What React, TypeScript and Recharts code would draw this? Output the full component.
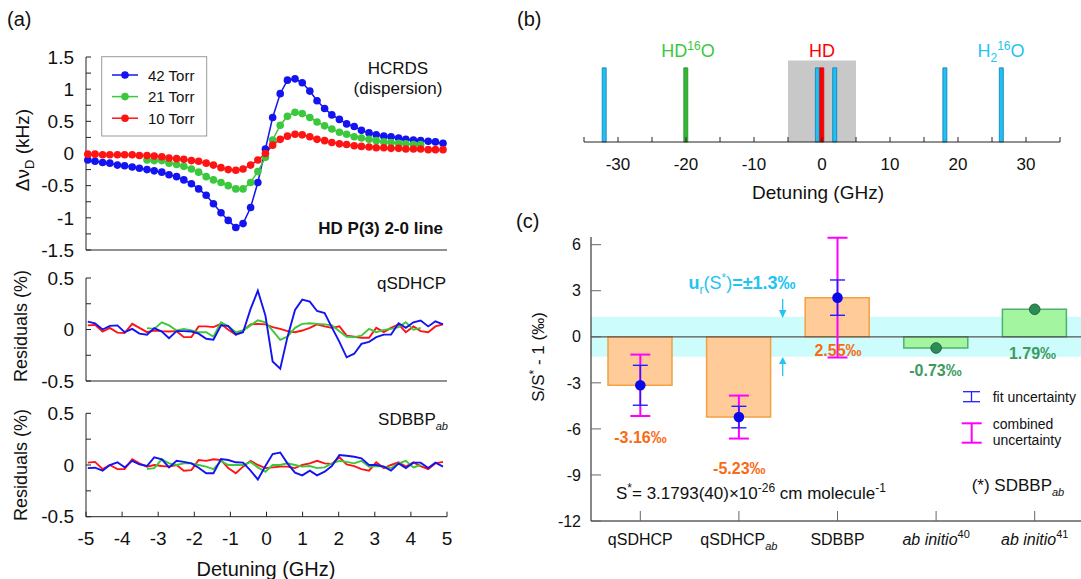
import React from 'react';
import {
  LineChart, Line, XAxis, YAxis, ComposedChart, Bar, Cell,
  ReferenceArea, ReferenceLine, ErrorBar,
} from 'recharts';

const FONT = '"Liberation Sans", Arial, Helvetica, sans-serif';
const AX = '#222';
const BLUE = '#1414F0';
const GREEN = '#3CC83C';
const RED = '#FF1414';
const MAGENTA = '#FF00FF';
const CYAN = '#22C4F0';
const ORANGE_TXT = '#F96A14';
const GREEN_TXT = '#3D9B5F';

// ---------- (a) HCRDS dispersion, three pressures ----------
const detuning = [
  -4.95, -4.75, -4.54, -4.34, -4.13, -3.93, -3.72, -3.52, -3.31, -3.11,
  -2.9, -2.7, -2.49, -2.29, -2.08, -1.88, -1.67, -1.47, -1.26, -1.06,
  -0.85, -0.65, -0.44, -0.24, -0.03, 0.17, 0.38, 0.58, 0.79, 0.99,
  1.2, 1.4, 1.61, 1.81, 2.02, 2.22, 2.43, 2.63, 2.84, 3.04,
  3.25, 3.45, 3.66, 3.86, 4.07, 4.27, 4.48, 4.68, 4.89,
];
const disp42 = [
  -0.1, -0.12, -0.14, -0.15, -0.18, -0.19, -0.21, -0.23, -0.25, -0.27,
  -0.29, -0.33, -0.36, -0.41, -0.47, -0.55, -0.65, -0.78, -0.92, -1.04,
  -1.15, -1.09, -0.84, -0.45, 0.07, 0.56, 0.93, 1.14, 1.16, 1.1,
  0.97, 0.82, 0.7, 0.6, 0.53, 0.46, 0.42, 0.36, 0.32, 0.29,
  0.27, 0.26, 0.24, 0.22, 0.21, 0.2, 0.19, 0.18, 0.16,
];
const disp21 = [
  null, null, null, null, null, null, null, null, -0.1, -0.11,
  -0.11, -0.15, -0.17, -0.2, -0.24, -0.29, -0.36, -0.41, -0.45, -0.5,
  -0.55, -0.55, -0.45, -0.28, -0.06, 0.21, 0.44, 0.58, 0.64, 0.62,
  0.56, 0.49, 0.43, 0.38, 0.33, 0.3, 0.26, 0.24, 0.22, 0.2,
  0.18, 0.17, 0.16, 0.15, 0.14, 0.14, null, null, null,
];
const disp10 = [
  -0.01, -0.01, -0.02, -0.02, -0.02, -0.02, -0.02, -0.03, -0.03, -0.04,
  -0.05, -0.07, -0.08, -0.09, -0.11, -0.12, -0.15, -0.18, -0.22, -0.25,
  -0.26, -0.24, -0.18, -0.1, 0.0, 0.13, 0.22, 0.27, 0.3, 0.29,
  0.26, 0.22, 0.2, 0.17, 0.15, 0.14, 0.12, 0.11, 0.1, 0.09,
  0.09, 0.08, 0.08, 0.07, 0.07, 0.07, 0.06, 0.06, 0.06,
];

// residuals (%) qSDHCP
const resQ42 = [
  0.077, 0.06, 0, 0.035, 0.04, -0.026, 0.006, -0.04, -0.05, 0.013,
  -0.02, -0.084, -0.016, -0.016, -0.02, -0.04, -0.09, -0.1, 0.04, 0.035,
  -0.05, -0.026, 0.2, 0.377, 0.135, -0.31, -0.38, -0.074, 0.19, 0.29,
  0.27, 0.18, 0.16, 0.02, -0.12, -0.27, -0.235, -0.14, -0.12, -0.074,
  -0.05, -0.05, 0.06, 0.016, 0.07, 0.087, 0.03, 0.08, 0.05,
];
const resQ21 = [
  null, null, null, null, null, null, null, null, 0.013, 0.006,
  0.07, 0.04, -0.01, 0.006, -0.01, -0.026, -0.026, -0.07, 0.07, 0.03,
  -0.026, -0.01, 0.04, 0.09, 0.07, -0.01, -0.1, -0.07, 0.016, 0.055,
  0.06, 0.055, 0.05, 0.04, -0.016, -0.07, -0.074, -0.06, 0.006, -0.026,
  -0.003, 0.006, 0.023, 0.07, -0.003, 0.016, null, null, null,
];
const resQ10 = [
  0.04, 0.045, -0.02, 0.016, -0.03, -0.035, 0.055, 0.016, -0.026, -0.01,
  -0.016, -0.02, -0.016, -0.074, -0.074, 0.03, 0.03, 0.023, 0.055, -0.003,
  -0.05, -0.01, 0.05, 0.055, 0.05, 0.023, 0.006, -0.016, -0.026, -0.01,
  0.016, 0.05, 0.03, 0.016, 0.03, -0.06, -0.07, -0.08, -0.08, 0.016,
  -0.026, 0.016, 0.05, -0.026, 0.03, -0.016, -0.026, 0.03, 0.05,
];

// residuals (%) SDBBP_ab
const resS42 = [
  -0.03, -0.026, -0.055, 0, 0.026, -0.023, 0.04, 0.006, -0.01, 0.074,
  0.055, -0.023, 0.04, 0.03, 0.016, -0.026, -0.08, -0.08, 0.058, 0.048,
  0.026, 0.023, -0.055, -0.14, -0.01, 0.106, 0.12, 0.016, -0.074, -0.1,
  -0.055, -0.1, -0.065, -0.01, 0.097, 0.09, 0.08, 0.065, 0, 0,
  -0.016, -0.055, 0.016, -0.03, 0.023, 0.023, -0.03, 0.023, -0.016,
];
const resS21 = [
  null, null, null, null, null, null, null, null, -0.04, -0.03,
  0.055, 0.016, 0, 0.016, 0.016, 0, -0.016, -0.04, 0.04, 0,
  0, 0, 0.03, -0.023, -0.065, 0, 0, 0.016, 0, -0.016,
  -0.01, -0.03, -0.023, 0.016, 0.04, 0.03, 0.016, 0.04, -0.016, -0.01,
  -0.016, -0.03, 0.016, 0.04, -0.023, 0, null, null, null,
];
const resS10 = [
  0.023, 0.03, -0.04, 0, -0.04, -0.04, 0.055, 0.016, -0.016, 0,
  -0.01, -0.016, 0, -0.055, -0.05, 0.048, 0.04, 0.055, 0.048, -0.03,
  -0.08, -0.016, 0.04, 0, -0.03, -0.023, -0.016, -0.016, -0.03, 0,
  0.016, 0.04, 0.016, 0.01, 0.074, 0.006, -0.01, -0.04, -0.055, 0.026,
  -0.03, 0, 0.026, -0.016, 0.026, -0.01, -0.04, 0.016, 0.03,
];

const pressureLabels = ['42 Torr', '21 Torr', '10 Torr'];
const pressureKeys = ['p42', 'p21', 'p10'];
const pressureColors = [BLUE, GREEN, RED];

const aXTicks = [-5, -4, -3, -2, -1, 0, 1, 2, 3, 4, 5];
const dispTicks = [-1.5, -1.25, -1, -0.75, -0.5, -0.25, 0, 0.25, 0.5, 0.75, 1, 1.25, 1.5];
const resTicks = [-0.5, -0.25, 0, 0.25, 0.5];

// ---------- (b) lines near the HD line ----------
const linePos = [-32, -20, -0.65, 0, 1.9, 18.1, 26.4];
const lineSpecies = ['H2O', 'HDO', 'H2O', 'HD', 'H2O', 'H2O', 'H2O'];
const lineHeight = [1, 1, 1, 1, 1, 1, 1];
const scanWindow = [-5, 5];
const bTicks = [-35, -30, -25, -20, -15, -10, -5, 0, 5, 10, 15, 20, 25, 30, 35];

// ---------- (c) line intensities ----------
const cKeys = ['qSDHCP', 'qSDHCPab', 'SDBBP', 'abinitio40', 'abinitio41'];
const cBase = ['qSDHCP', 'qSDHCP', 'SDBBP', 'ab initio', 'ab initio'];
const cSub = ['', 'ab', '', '', ''];
const cSup = ['', '', '', '40', '41'];
const cValues = [-3.16, -5.23, 2.55, -0.73, 1.79];
const cFit = [1.3, 0.7, 1.15, null, null];
const cCombined = [2.0, 1.4, 3.9, null, null];
const cIsExp = [true, true, true, false, false];
const cTicks = [-12, -9, -6, -3, 0, 3, 6];
const urS = 1.3;

const speciesFill: Record<string, string> = { H2O: '#1CC2F2', HDO: '#34B834', HD: '#FF0000' };
const speciesStroke: Record<string, string> = { H2O: '#1478B4', HDO: '#2A8A2A', HD: '#D00000' };

const dispRows = detuning.map((x, i) => ({ x, p42: disp42[i], p21: disp21[i], p10: disp10[i] }));
const resQRows = detuning.map((x, i) => ({ x, p42: resQ42[i], p21: resQ21[i], p10: resQ10[i] }));
const resSRows = detuning.map((x, i) => ({ x, p42: resS42[i], p21: resS21[i], p10: resS10[i] }));
const bRows = linePos.map((pos, i) => ({ pos, h: lineHeight[i], sp: lineSpecies[i] }));
const cRows = cKeys.map((key, i) => ({
  key,
  val: cValues[i],
  exp: cIsExp[i] ? cValues[i] : null,
  th: cIsExp[i] ? null : cValues[i],
  fit: cFit[i],
  comb: cCombined[i],
}));

const labelEvery = (step: number) => (v: number) =>
  Math.abs(v / step - Math.round(v / step)) < 1e-6 ? String(v) : '';
const tickStyle = (size: number) => ({ fontSize: size, fill: '#111', fontFamily: FONT });

const abs = (left: number, top: number): React.CSSProperties => ({ position: 'absolute', left, top });

function DispersionPanel() {
  return (
    <div style={abs(0, 0)}>
      <LineChart width={460} height={260} data={dispRows} margin={{ top: 57, right: 13, bottom: 0, left: 0 }}>
        <XAxis type="number" dataKey="x" domain={[-5, 5]} ticks={aXTicks} interval={0} tick={false}
          tickSize={-5} height={10} stroke={AX} />
        <YAxis type="number" domain={[-1.5, 1.5]} ticks={dispTicks} interval={0} tickFormatter={labelEvery(0.5)}
          width={86} tickSize={-5} tickMargin={17} tick={tickStyle(19)} stroke={AX} />
        {pressureKeys.map((k, i) => (
          <Line key={k} dataKey={k} stroke={pressureColors[i]} strokeWidth={1.5} isAnimationActive={false}
            dot={{ r: 3.8, fill: pressureColors[i], stroke: 'none' }} activeDot={false} />
        ))}
      </LineChart>
    </div>
  );
}

function ResidualPanel(props: { top: number; height: number; mTop: number; mBottom: number; axisH: number; rows: any[]; labels: boolean }) {
  const order = [2, 1, 0];
  return (
    <div style={abs(0, props.top)}>
      <LineChart width={460} height={props.height} data={props.rows}
        margin={{ top: props.mTop, right: 13, bottom: props.mBottom, left: 0 }}>
        <XAxis type="number" dataKey="x" domain={[-5, 5]} ticks={aXTicks} interval={0}
          tick={props.labels ? tickStyle(19) : false} tickSize={-5} tickMargin={20} height={props.axisH} stroke={AX} />
        <YAxis type="number" domain={[-0.5, 0.5]} ticks={resTicks} interval={0} tickFormatter={labelEvery(0.5)}
          width={86} tickSize={-5} tickMargin={17} tick={tickStyle(19)} stroke={AX} />
        {order.map((i) => (
          <Line key={pressureKeys[i]} dataKey={pressureKeys[i]} stroke={pressureColors[i]} strokeWidth={1.9}
            dot={false} activeDot={false} isAnimationActive={false} />
        ))}
      </LineChart>
    </div>
  );
}

function LinesPanel() {
  return (
    <div style={abs(540, 0)}>
      <ComposedChart width={541} height={200} data={bRows} margin={{ top: 53, right: 21, bottom: 28, left: 44 }}>
        <XAxis type="number" dataKey="pos" domain={[-35, 35]} ticks={bTicks} interval={0}
          tickFormatter={labelEvery(10)} tickSize={-5} tickMargin={21} tick={tickStyle(17)} height={30} stroke={AX} />
        <YAxis hide type="number" domain={[0, 1.2]} />
        <ReferenceArea x1={scanWindow[0]} x2={scanWindow[1]} y1={0} y2={1.1} fill="#C8C8C8" fillOpacity={1} stroke="none" />
        <Bar dataKey="h" barSize={4} isAnimationActive={false}>
          {bRows.map((r, i) => (
            <Cell key={i} fill={speciesFill[r.sp]} stroke={speciesStroke[r.sp]} strokeWidth={0.8} />
          ))}
        </Bar>
      </ComposedChart>
    </div>
  );
}

function renderCTick(p: any) {
  const i = cKeys.indexOf(p.payload.value);
  const italic = cSup[i] !== '';
  return (
    <text x={p.x} y={p.y} dy="0.71em" textAnchor="middle" fontSize={16} fill="#111" fontFamily={FONT}>
      <tspan fontStyle={italic ? 'italic' : 'normal'}>{cBase[i]}</tspan>
      {cSub[i] && <tspan fontSize={11} fontStyle="italic" dy={5}>{cSub[i]}</tspan>}
      {cSup[i] && <tspan fontSize={11} dy={-7}>{cSup[i]}</tspan>}
    </text>
  );
}

function IntensityPanel() {
  return (
    <div style={abs(540, 200)}>
      <ComposedChart width={544} height={379} data={cRows} margin={{ top: 37, right: 0, bottom: 28, left: 0 }}>
        <ReferenceArea y1={-urS} y2={urS} fill="#CCFCFC" fillOpacity={1} stroke="none" />
        <XAxis dataKey="key" type="category" interval={0} tick={renderCTick} tickSize={-10} tickMargin={23}
          height={30} axisLine={{ stroke: '#111' }} tickLine={{ stroke: '#666' }} />
        <YAxis type="number" domain={[-12, 6.5]} ticks={cTicks} interval={0} width={51} tickSize={-10}
          tickMargin={20} tick={tickStyle(16)} axisLine={{ stroke: '#111' }} tickLine={{ stroke: '#666' }} />
        <Bar dataKey="val" barSize={64} isAnimationActive={false}>
          {cRows.map((r, i) => (
            <Cell key={i} fill={cIsExp[i] ? '#FFCC99' : '#A3F5A0'} stroke={cIsExp[i] ? '#F5A040' : '#50B070'} strokeWidth={1.5} />
          ))}
        </Bar>
        <ReferenceLine y={0} stroke="#555" strokeWidth={1.2} />
        <Line dataKey="exp" stroke="none" isAnimationActive={false} activeDot={false}
          dot={{ r: 5.3, fill: '#0A0AE6', stroke: 'none' }}>
          <ErrorBar dataKey="comb" width={10} strokeWidth={2} stroke={MAGENTA} direction="y" />
          <ErrorBar dataKey="fit" width={7.5} strokeWidth={1.4} stroke="#2020FF" direction="y" />
        </Line>
        <Line dataKey="th" stroke="none" isAnimationActive={false} activeDot={false}
          dot={{ r: 5.3, fill: '#2E8B57', stroke: '#1E6B40', strokeWidth: 1 }} />
      </ComposedChart>
    </div>
  );
}

function Overlay() {
  const t = { fontFamily: FONT, fill: '#111' } as const;
  return (
    <svg width={1081} height={579} style={{ position: 'absolute', left: 0, top: 0, pointerEvents: 'none' }}>
      {/* panel (a) */}
      <text x={7} y={26} fontSize={20} {...t}>(a)</text>
      <text transform="translate(29,150) rotate(-90)" textAnchor="middle" fontSize={19} {...t}>
        Δν<tspan fontSize={13} dy={5}>D</tspan><tspan dy={-5}> (kHz)</tspan>
      </text>
      <text transform="translate(27,326) rotate(-90)" textAnchor="middle" fontSize={18} {...t}>Residuals (%)</text>
      <text transform="translate(27,465) rotate(-90)" textAnchor="middle" fontSize={18} {...t}>Residuals (%)</text>
      <rect x={101.7} y={56.7} width={105} height={79.3} fill="#fff" stroke="#999" strokeWidth={1} />
      {pressureLabels.map((lab, i) => {
        const y = 75 + i * 21.6;
        return (
          <g key={lab}>
            <line x1={112} x2={138} y1={y} y2={y} stroke={pressureColors[i]} strokeWidth={1.5} />
            <circle cx={125} cy={y} r={3.8} fill={pressureColors[i]} />
            <text x={148} y={y + 5.5} fontSize={15} {...t}>{lab}</text>
          </g>
        );
      })}
      <text x={398} y={74} textAnchor="middle" fontSize={17} {...t}>HCRDS</text>
      <text x={398} y={94} textAnchor="middle" fontSize={17} {...t}>(dispersion)</text>
      <text x={443} y={234} textAnchor="end" fontSize={17} fontWeight="bold" {...t}>HD P(3) 2-0 line</text>
      <text x={446} y={289} textAnchor="end" fontSize={17} {...t}>qSDHCP</text>
      <text x={448} y={425} textAnchor="end" fontSize={17} {...t}>
        SDBBP<tspan fontSize={11} fontStyle="italic" dy={5}>ab</tspan>
      </text>
      <text x={266} y={576} textAnchor="middle" fontSize={20} {...t}>Detuning (GHz)</text>

      {/* panel (b) */}
      <text x={517} y={26} fontSize={20} {...t}>(b)</text>
      <text x={688} y={56.5} textAnchor="middle" fontSize={18} fontFamily={FONT} fill="#3CC83C">
        HD<tspan fontSize={12} dy={-7}>16</tspan><tspan dy={7}>O</tspan>
      </text>
      <text x={822} y={56.5} textAnchor="middle" fontSize={18} fontFamily={FONT} fill="#FF0000">HD</text>
      <text x={1001} y={56.5} textAnchor="middle" fontSize={18} fontFamily={FONT} fill={CYAN}>
        H<tspan fontSize={12} dy={5}>2</tspan><tspan fontSize={12} dy={-12}>16</tspan><tspan dy={7}>O</tspan>
      </text>
      <text x={818} y={199} textAnchor="middle" fontSize={19} {...t}>Detuning (GHz)</text>

      {/* panel (c) */}
      <text x={516} y={228} fontSize={20} {...t}>(c)</text>
      <text transform="translate(544,357) rotate(-90)" textAnchor="middle" fontSize={17} {...t}>
        S/S<tspan fontSize={12} dy={-6}>*</tspan><tspan dy={6}> - 1 (‰)</tspan>
      </text>
      <g fontFamily={FONT} fontWeight="bold" fontSize={16} textAnchor="middle">
        <text x={640.5} y={443} fill={ORANGE_TXT}>-3.16‰</text>
        <text x={739.3} y={474} fill={ORANGE_TXT}>-5.23‰</text>
        <text x={838} y={356} fill={ORANGE_TXT}>2.55‰</text>
        <text x={935.5} y={376} fill={GREEN_TXT}>-0.73‰</text>
        <text x={1032.5} y={359} fill={GREEN_TXT}>1.79‰</text>
      </g>
      <text x={742} y={289} textAnchor="middle" fontSize={18} fontFamily={FONT} fill={CYAN}>
        <tspan fontWeight="bold">u</tspan><tspan fontSize={12} dy={5}>r</tspan>
        <tspan dy={-5}>(S</tspan><tspan fontSize={12} dy={-7}>*</tspan><tspan dy={7}>)</tspan>
        <tspan fontWeight="bold">=±{urS}‰</tspan>
      </text>
      <g stroke={CYAN} fill={CYAN} strokeWidth={1.3}>
        <line x1={782.7} x2={782.7} y1={299} y2={311} />
        <polygon points="779,310 786.4,310 782.7,318" stroke="none" />
        <line x1={782.7} x2={782.7} y1={376} y2={364} />
        <polygon points="779,364 786.4,364 782.7,357" stroke="none" />
      </g>
      <text x={616} y={499} fontSize={17} {...t}>
        S<tspan fontSize={12} dy={-7}>*</tspan><tspan dy={7}>= 3.1793(40)×10</tspan>
        <tspan fontSize={12} dy={-7}>-26</tspan><tspan dy={7}> cm molecule</tspan>
        <tspan fontSize={12} dy={-7}>-1</tspan>
      </text>
      <g strokeWidth={1.3} stroke="#2020FF">
        <line x1={971.5} x2={971.5} y1={391.7} y2={401.7} />
        <line x1={963} x2={980} y1={391.7} y2={391.7} />
        <line x1={963} x2={980} y1={401.7} y2={401.7} />
      </g>
      <g strokeWidth={2} stroke={MAGENTA}>
        <line x1={971.7} x2={971.7} y1={423.3} y2={442.7} />
        <line x1={961.7} x2={981.7} y1={423.3} y2={423.3} />
        <line x1={961.7} x2={981.7} y1={442.7} y2={442.7} />
      </g>
      <text x={992.7} y={401.5} fontSize={14} {...t}>fit uncertainty</text>
      <text x={992.7} y={429} fontSize={14} {...t}>combined</text>
      <text x={992.7} y={445} fontSize={14} {...t}>uncertainty</text>
      <text x={971.7} y={491} fontSize={17} {...t}>
        (*) SDBBP<tspan fontSize={11} fontStyle="italic" dy={5}>ab</tspan>
      </text>
    </svg>
  );
}

export default function App() {
  return (
    <div style={{ position: 'absolute', left: 0, top: 0, width: 1081, height: 579, overflow: 'hidden', background: '#fff', fontFamily: FONT }}>
      <DispersionPanel />
      <ResidualPanel top={260} height={140} mTop={18} mBottom={0} axisH={19} rows={resQRows} labels={false} />
      <ResidualPanel top={395} height={184} mTop={18.3} mBottom={22.3} axisH={40} rows={resSRows} labels={true} />
      <LinesPanel />
      <IntensityPanel />
      <Overlay />
    </div>
  );
}
